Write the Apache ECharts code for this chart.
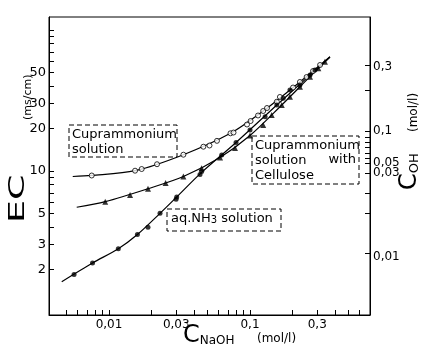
<!DOCTYPE html>
<html>
<head>
<meta charset="utf-8">
<style>
  html, body { margin: 0; padding: 0; background: #fff; }
  #chart { width: 423px; height: 349px; }
</style>
</head>
<body>
<div id="chart"></div>
<script src="https://cdn.jsdelivr.net/npm/echarts@6/dist/echarts.min.js"></script>
<script>
// x = C_NaOH (mol/l), y = EC (ms/cm), both log scales
const cupX = [0.00754, 0.0153, 0.01705, 0.0219, 0.0337, 0.0467, 0.0516, 0.0583, 0.0727, 0.0764, 0.0952, 0.101, 0.114, 0.124, 0.132, 0.155, 0.163, 0.202, 0.226, 0.252, 0.28, 0.314];
const cupY = [9.29, 10.05, 10.33, 11.17, 13.05, 14.87, 15.16, 16.37, 18.51, 18.75, 21.37, 22.63, 24.76, 26.65, 27.98, 31.0, 33.5, 39.1, 42.8, 46.4, 51.2, 56.5];

const celX = [0.0094, 0.0141, 0.0189, 0.0252, 0.0337, 0.0454, 0.0613, 0.0783, 0.1, 0.124, 0.1425, 0.168, 0.192, 0.226, 0.2665, 0.305, 0.34];
const celY = [6.06, 6.76, 7.49, 8.22, 9.14, 10.45, 12.47, 14.56, 17.85, 21.2, 24.96, 29.4, 33.65, 39.6, 46.7, 53.5, 59.6];

const nh3X = [0.00565, 0.00764, 0.01164, 0.0159, 0.0189, 0.023, 0.0299, 0.0302, 0.0442, 0.0454, 0.063, 0.0796, 0.1, 0.128, 0.155, 0.172, 0.192, 0.226, 0.2665, 0.289];
const nh3Y = [1.845, 2.226, 2.81, 3.545, 3.99, 5.01, 6.3, 6.54, 9.445, 9.92, 12.99, 15.93, 19.54, 24.27, 29.4, 32.79, 37.54, 40.7, 47.9, 52.0];

// fitted curves as drawn in the figure
const cupCurveX = [0.00553, 0.0075, 0.0153, 0.0337, 0.0727, 0.124, 0.202, 0.369];
const cupCurveY = [9.14, 9.3, 10.05, 13.05, 18.5, 26.6, 39.1, 64.7];
const celCurveX = [0.0059, 0.0094, 0.0189, 0.0337, 0.0613, 0.1, 0.168, 0.2665, 0.369];
const celCurveY = [5.53, 6.06, 7.49, 9.14, 12.47, 17.85, 29.4, 46.7, 64.3];
const nh3CurveX = [0.00462, 0.00764, 0.01164, 0.0159, 0.023, 0.0302, 0.045, 0.0796, 0.155, 0.2665, 0.369];
const nh3CurveY = [1.64, 2.226, 2.81, 3.545, 5.01, 6.54, 9.7, 15.93, 29.4, 47.9, 64.3];

// axis ticks / labels
const xTicks = [0.005, 0.006, 0.007, 0.008, 0.009, 0.01, 0.02, 0.03, 0.04, 0.05, 0.06, 0.07, 0.08, 0.09, 0.1, 0.2, 0.3, 0.4, 0.5, 0.6];
const xLabels = [0.01, 0.03, 0.1, 0.3];
const yTicks = [2, 3, 4, 5, 6, 7, 8, 9, 10, 20, 30, 40, 50, 60, 70, 80, 90, 100];
const yLabels = [2, 3, 5, 10, 20, 30, 50];
// right axis (C_OH) expressed at the EC heights where it is printed
const cohTickAt = [56.5, 37.5, 19.2, 17.4, 16.1, 14.8, 13.4, 12.4, 11.4, 9.7, 6.98, 5.04, 2.62];
const cohLabelAt = [54.7, 19.2, 11.4, 9.7, 2.46];
const cohLabels = ['0,3', '0,1', '0,05', '0,03', '0,01'];

const FONT = 'DejaVu Sans';
const zip = (xs, ys) => xs.map((x, i) => [x, ys[i]]);
const comma = (v) => String(v).replace('.', ',');

const chart = echarts.init(document.getElementById('chart'), null, { renderer: 'canvas' });

const lineStyle = { color: '#000', width: 1.2 };
const tickStyle = { show: true, inside: true, length: 5, lineStyle: { color: '#000', width: 1 } };

const option = {
  animation: false,
  backgroundColor: '#fff',
  grid: { left: 49, right: 53, top: 17, bottom: 34, show: true, borderColor: '#000', borderWidth: 1 },
  xAxis: {
    type: 'log',
    min: 0.003753,
    max: 0.7097,
    axisLine: { show: true, lineStyle: { color: '#000', width: 1 } },
    axisTick: Object.assign({ customValues: xTicks }, tickStyle),
    axisLabel: { customValues: xLabels, formatter: comma, color: '#000', fontFamily: FONT, fontSize: 12, margin: 4 },
    splitLine: { show: false }
  },
  yAxis: [
    {
      type: 'log',
      min: 0.952,
      max: 123.7,
      axisLine: { show: true, lineStyle: { color: '#000', width: 1 } },
      axisTick: Object.assign({ customValues: yTicks }, tickStyle),
      axisLabel: { customValues: yLabels, color: '#000', fontFamily: FONT, fontSize: 13, margin: 3 },
      splitLine: { show: false }
    },
    {
      type: 'log',
      min: 0.952,
      max: 123.7,
      position: 'right',
      axisLine: { show: true, lineStyle: { color: '#000', width: 1 } },
      axisTick: Object.assign({ customValues: cohTickAt }, tickStyle),
      axisLabel: {
        customValues: cohLabelAt,
        color: '#000', fontFamily: FONT, fontSize: 12, margin: 3,
        formatter: (v) => {
          let best = 0;
          cohLabelAt.forEach((p, i) => { if (Math.abs(p - v) < Math.abs(cohLabelAt[best] - v)) best = i; });
          return cohLabels[best];
        }
      },
      splitLine: { show: false }
    }
  ],
  series: [
    { type: 'line', data: zip(cupCurveX, cupCurveY), smooth: 0.3, showSymbol: false, lineStyle, silent: true, z: 2 },
    { type: 'line', data: zip(celCurveX, celCurveY), smooth: 0.3, showSymbol: false, lineStyle, silent: true, z: 2 },
    { type: 'line', data: zip(nh3CurveX, nh3CurveY), smooth: 0.3, showSymbol: false, lineStyle, silent: true, z: 2 },
    { type: 'scatter', data: zip(cupX, cupY), symbol: 'circle', symbolSize: 5,
      itemStyle: { color: '#fff', borderColor: '#000', borderWidth: 1 }, z: 3 },
    { type: 'scatter', data: zip(celX, celY), symbol: 'triangle', symbolSize: 6,
      itemStyle: { color: '#000' }, z: 3 },
    { type: 'scatter', data: zip(nh3X, nh3Y), symbol: 'circle', symbolSize: 5,
      itemStyle: { color: '#000' }, z: 3 }
  ],
  graphic: [
    // axis titles (rotated, reading bottom to top)
    { type: 'text', x: 7, y: 223, rotation: Math.PI / 2, scaleX: 1.65,
      style: { text: 'EC', font: '22px "DejaVu Sans"', fill: '#000' } },
    { type: 'text', x: 23, y: 120, rotation: Math.PI / 2,
      style: { text: '(ms/cm)', font: '11px "DejaVu Sans"', fill: '#000' } },
    { type: 'text', x: 398, y: 190, rotation: Math.PI / 2,
      style: {
        text: '{c|C}{s|OH}',
        rich: { c: { font: '24px "DejaVu Sans"', fill: '#000' }, s: { font: '13px "DejaVu Sans"', fill: '#000', padding: [10, 0, 0, 0] } }
      } },
    { type: 'text', x: 408, y: 132, rotation: Math.PI / 2,
      style: { text: '(mol/l)', font: '12px "DejaVu Sans"', fill: '#000' } },
    { type: 'text', x: 183, y: 324,
      style: {
        text: '{c|C}{s|NaOH}',
        rich: { c: { font: '24px "DejaVu Sans"', fill: '#000' }, s: { font: '12px "DejaVu Sans"', fill: '#000', padding: [10, 0, 0, 0] } }
      } },
    { type: 'text', x: 257, y: 333,
      style: { text: '(mol/l)', font: '12px "DejaVu Sans"', fill: '#000' } },

    // dashed legend boxes
    { type: 'rect', shape: { x: 69, y: 125, width: 108, height: 32 },
      style: { fill: 'none', stroke: '#000', lineWidth: 1, lineDash: [5, 3] } },
    { type: 'text', x: 72, y: 127,
      style: { text: 'Cuprammonium\nsolution', font: '13px "DejaVu Sans"', lineHeight: 15, fill: '#000' } },

    { type: 'rect', shape: { x: 252, y: 136, width: 107, height: 48 },
      style: { fill: 'none', stroke: '#000', lineWidth: 1, lineDash: [5, 3] } },
    { type: 'text', x: 255, y: 138,
      style: { text: 'Cuprammonium\nsolution\nCellulose', font: '13px "DejaVu Sans"', lineHeight: 15, fill: '#000' } },
    { type: 'text', x: 356, y: 153,
      style: { text: 'with', font: '13px "DejaVu Sans"', fill: '#000', align: 'right' } },

    { type: 'rect', shape: { x: 167, y: 209, width: 114, height: 22 },
      style: { fill: 'none', stroke: '#000', lineWidth: 1, lineDash: [5, 3] } },
    { type: 'text', x: 171, y: 212,
      style: {
        text: '{a|aq.NH}{b|3}{a| solution}',
        rich: { a: { font: '13px "DejaVu Sans"', fill: '#000' }, b: { font: '10px "DejaVu Sans"', fill: '#000', padding: [3, 0, 0, 0] } }
      } }
  ]
};

chart.setOption(option);
</script>
</body>
</html>
